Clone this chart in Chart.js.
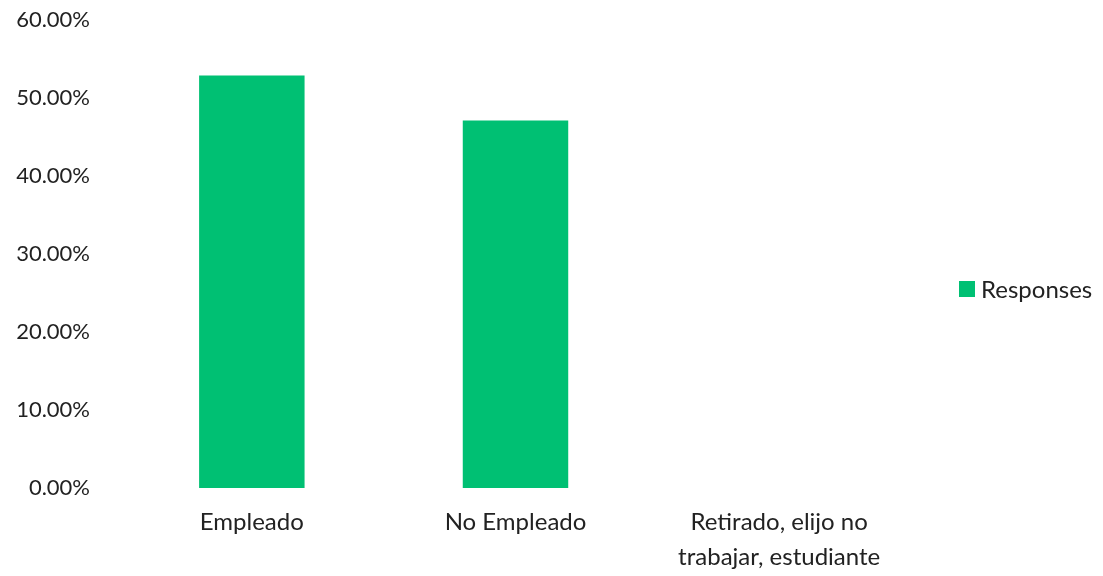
<!DOCTYPE html>
<html>
<head>
<meta charset="utf-8">
<script src="https://cdn.jsdelivr.net/npm/chart.js@4"></script>
<style>
  html, body { margin: 0; padding: 0; background: #fff; }
  #wrap { position: relative; width: 1103px; height: 576px; }
  #legend { position: absolute; left: 959px; top: 274px; font: 24px Lato, sans-serif; color: #222; display: flex; align-items: center; }
  #legend .box { width: 16px; height: 16px; background: #00c073; margin-right: 6px; }
</style>
</head>
<body>
<div id="wrap">
  <canvas id="chart" width="1103" height="576"></canvas>
  <div id="legend"><span class="box"></span><span>Responses</span></div>
</div>
<script>
// chart data
const categories = ['Empleado', 'No Empleado', ['Retirado, elijo no', 'trabajar, estudiante']];
const responses = [52.9, 47.1, 0];
const yTicks = [0, 10, 20, 30, 40, 50, 60];

const barColor = '#00c073';
const textColor = '#222';

new Chart(document.getElementById('chart'), {
    type: 'bar',
    data: {
        labels: categories,
        datasets: [{
            label: 'Responses',
            data: responses,
            backgroundColor: barColor,
            barPercentage: 0.4,
            categoryPercentage: 1
        }]
    },
    options: {
        responsive: false,
        animation: false,
        layout: { padding: { top: 20, right: 192, left: 0, bottom: 0 } },
        plugins: { legend: { display: false }, tooltip: { enabled: false } },
        scales: {
            x: {
                grid: { display: false, drawTicks: false },
                border: { display: false },
                ticks: {
                    color: textColor, maxRotation: 0, autoSkip: false, padding: 17,
                    font: { family: 'Lato', size: 24, lineHeight: 1.46 }
                },
                afterFit: (scale) => {
                    scale.height = 88;
                    scale.paddingLeft = scale.paddingRight = 0;
                }
            },
            y: {
                min: yTicks[0], max: yTicks[yTicks.length - 1],
                grid: { display: false, drawTicks: false },
                border: { display: false },
                afterBuildTicks: (scale) => { scale.ticks = yTicks.map(v => ({ value: v })); },
                ticks: {
                    color: textColor, padding: 30,
                    font: { family: 'Lato', size: 22 },
                    callback: (v) => v.toFixed(2) + '%'
                },
                afterFit: (scale) => {
                    scale.width = 120;
                    scale.paddingTop = scale.paddingBottom = 0;
                }
            }
        }
    }
});
</script>
</body>
</html>
